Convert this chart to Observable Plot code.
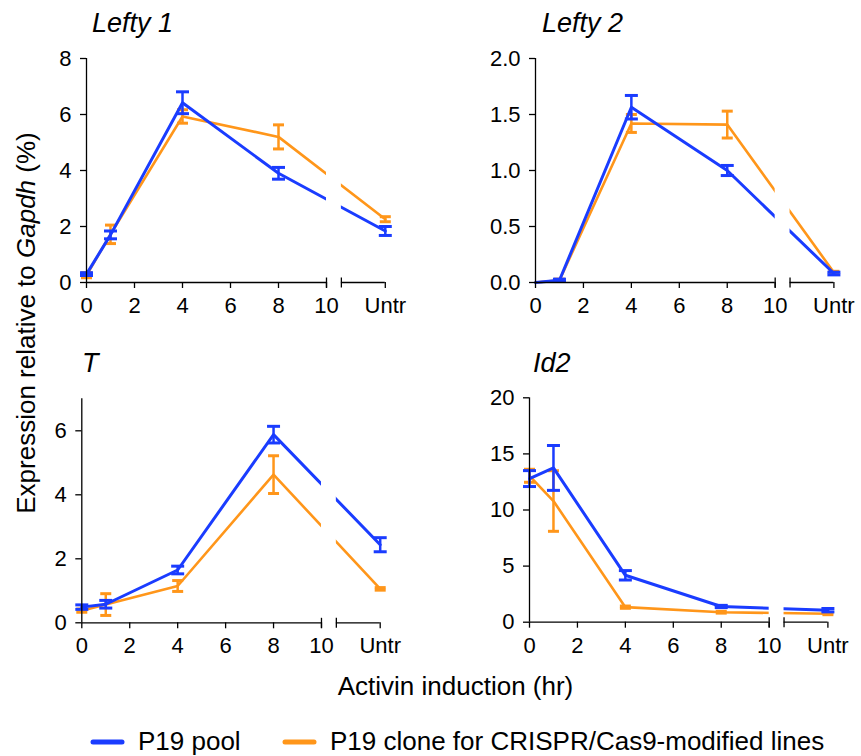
<!DOCTYPE html>
<html><head><meta charset="utf-8">
<script src="https://cdn.jsdelivr.net/npm/d3@7"></script>
<script src="https://cdn.jsdelivr.net/npm/@observablehq/plot@0.6"></script>
<style>
body{margin:0;background:#fff;}
#chart{position:relative;width:861px;height:756px;background:#fff;}
#chart svg{position:absolute;}
</style></head><body><div id="chart"></div>
<script>
const FONT = '"Liberation Sans", Arial, Helvetica, sans-serif';
const BLUE = "#1a3cff", ORANGE = "#ff961a";

// x categories (time points, hr) and the untreated control
const times = ["0", "1", "4", "8", "Untr"];
const xTicks = [0, 2, 4, 6, 8, 10];
const UNTR = 12.45, BREAK_START = 10, BREAK_END = 10.62;

// series names
const seriesPool = "P19 pool";
const seriesClone = "P19 clone for CRISPR/Cas9-modified lines";

// Lefty 1
const lefty1Pool = [0.30, 1.70, 6.42, 3.90, 1.84];
const lefty1PoolErr = [0.05, 0.14, 0.39, 0.21, 0.16];
const lefty1Clone = [0.26, 1.72, 5.93, 5.20, 2.26];
const lefty1CloneErr = [0.09, 0.33, 0.24, 0.43, 0.09];
const lefty1Ticks = [0, 2, 4, 6, 8];
// Lefty 2
const lefty2Pool = [0.00, 0.02, 1.565, 1.00, 0.08];
const lefty2PoolErr = [0, 0.01, 0.105, 0.045, 0.012];
const lefty2Clone = [0.00, 0.02, 1.42, 1.41, 0.09];
const lefty2CloneErr = [0, 0.01, 0.08, 0.12, 0.01];
const lefty2Ticks = [0, 0.5, 1, 1.5, 2];
// T
const tPool = [0.49, 0.58, 1.65, 5.88, 2.44];
const tPoolErr = [0.07, 0.12, 0.12, 0.26, 0.22];
const tClone = [0.38, 0.57, 1.15, 4.63, 1.06];
const tCloneErr = [0.05, 0.34, 0.17, 0.59, 0.04];
const tTicks = [0, 2, 4, 6];
// Id2
const id2Pool = [12.80, 13.75, 4.18, 1.40, 1.07];
const id2PoolErr = [0.71, 2.00, 0.42, 0.10, 0.15];
const id2Clone = [13.05, 10.80, 1.34, 0.89, 0.75];
const id2CloneErr = [0.58, 2.70, 0.10, 0.08, 0.08];
const id2Ticks = [0, 5, 10, 15, 20];

const panels = [
  {title: "Lefty 1", pool: lefty1Pool, poolErr: lefty1PoolErr, clone: lefty1Clone, cloneErr: lefty1CloneErr,
   yMax: 8, yTicks: lefty1Ticks, fmt: d => String(d),
   left: 0, top: 0, width: 430, height: 330, mL: 86, mR: 45.2, mT: 58, mB: 48, tx: 92, ty: 32},
  {title: "Lefty 2", pool: lefty2Pool, poolErr: lefty2PoolErr, clone: lefty2Clone, cloneErr: lefty2CloneErr,
   yMax: 2, yTicks: lefty2Ticks, fmt: d3.format(".1f"),
   left: 430, top: 0, width: 431, height: 330, mL: 105, mR: 27.6, mT: 58, mB: 48, tx: 542, ty: 32},
  {title: "T", pool: tPool, poolErr: tPoolErr, clone: tClone, cloneErr: tCloneErr,
   yMax: 7, yTicks: tTicks, fmt: d => String(d),
   left: 0, top: 340, width: 430, height: 330, mL: 81.3, mR: 50.3, mT: 58.3, mB: 47.7, tx: 82, ty: 372},
  {title: "Id2", pool: id2Pool, poolErr: id2PoolErr, clone: id2Clone, cloneErr: id2CloneErr,
   yMax: 20, yTicks: id2Ticks, fmt: d => String(d),
   left: 430, top: 340, width: 431, height: 330, mL: 99, mR: 33.6, mT: 57.3, mB: 48.3, tx: 533, ty: 372}
];

const xPos = t => t === "Untr" ? UNTR : +t;
const hCap = {draw(ctx, size) { const w = Math.sqrt(size / Math.PI); ctx.moveTo(-w, 0); ctx.lineTo(w, 0); }};
const vTick = {draw(ctx, size) { const w = Math.sqrt(size / Math.PI); ctx.moveTo(0, -w); ctx.lineTo(0, w); }};

function rows(vals, errs, series) {
  return times.map((t, i) => ({t, x: xPos(t), y: vals[i], e: errs[i], series}));
}

function errMarks(data, color, capR) {
  const withErr = data.filter(d => d.e > 0);
  return [
    Plot.ruleX(withErr, {x: "x", y1: d => d.y - d.e, y2: d => d.y + d.e, stroke: color, strokeWidth: 2.5}),
    Plot.dot(withErr, {x: "x", y: d => d.y - d.e, symbol: hCap, r: capR, stroke: color, strokeWidth: 3, fill: "none"}),
    Plot.dot(withErr, {x: "x", y: d => d.y + d.e, symbol: hCap, r: capR, stroke: color, strokeWidth: 3, fill: "none"})
  ];
}

const chart = document.getElementById("chart");

for (const p of panels) {
  const pool = rows(p.pool, p.poolErr, seriesPool);
  const clone = rows(p.clone, p.cloneErr, seriesClone);
  const svg = Plot.plot({
    width: p.width, height: p.height,
    marginLeft: p.mL, marginRight: p.mR, marginTop: p.mT, marginBottom: p.mB,
    x: {domain: [0, UNTR], axis: null, label: null},
    y: {domain: [0, p.yMax], axis: null, label: null},
    style: {fontFamily: FONT, fontSize: "22px", color: "black", background: "transparent", overflow: "visible"},
    marks: [
      Plot.line(clone, {x: "x", y: "y", stroke: ORANGE, strokeWidth: 2.6}),
      ...errMarks(clone, ORANGE, 5.5),
      Plot.line(pool, {x: "x", y: "y", stroke: BLUE, strokeWidth: 3}),
      ...errMarks(pool, BLUE, 6.5),
      // axis break gap
      Plot.rect([0], {x1: BREAK_START, x2: BREAK_END, y1: 0, y2: p.yMax, fill: "white"}),
      // axes
      Plot.ruleX([0], {stroke: "black", strokeWidth: 1.3}),
      Plot.ruleY([0], {x1: 0, x2: BREAK_START, stroke: "black", strokeWidth: 1.3}),
      Plot.ruleY([0], {x1: BREAK_END, x2: UNTR, stroke: "black", strokeWidth: 1.3}),
      Plot.dot([BREAK_START, BREAK_END], {x: d => d, y: 0, symbol: vTick, r: 5, stroke: "black", strokeWidth: 1.3}),
      Plot.axisY({ticks: p.yTicks, tickFormat: p.fmt, label: null, tickSize: 6, tickPadding: 9, fontSize: 22, fill: "black", stroke: "black", strokeWidth: 1.3}),
      Plot.axisX({ticks: [...xTicks, UNTR], tickFormat: d => d === UNTR ? "Untr" : String(d), label: null, tickSize: 6, tickPadding: 9, fontSize: 22, fill: "black", stroke: "black", strokeWidth: 1.3})
    ]
  });
  svg.style.left = p.left + "px";
  svg.style.top = p.top + "px";
  chart.appendChild(svg);
}

// overlay for titles, axis labels and legend
const ov = d3.select(chart).append("svg")
  .attr("width", 861).attr("height", 756)
  .style("left", "0px").style("top", "0px")
  .style("pointer-events", "none")
  .style("font-family", FONT);

for (const p of panels) {
  ov.append("text").attr("x", p.tx).attr("y", p.ty)
    .attr("font-size", 27).attr("font-style", "italic").attr("fill", "black").text(p.title);
}

const yl = ov.append("text").attr("transform", "translate(35,323) rotate(-90)")
  .attr("text-anchor", "middle").attr("font-size", 26).attr("fill", "black");
yl.append("tspan").text("Expression relative to ");
yl.append("tspan").attr("font-style", "italic").text("Gapdh");
yl.append("tspan").text(" (%)");

ov.append("text").attr("x", 455.5).attr("y", 695).attr("text-anchor", "middle")
  .attr("font-size", 26).attr("fill", "black").text("Activin induction (hr)");

const legend = [
  {name: seriesPool, color: BLUE, x: 91},
  {name: seriesClone, color: ORANGE, x: 283}
];
for (const l of legend) {
  ov.append("line").attr("x1", l.x + 2).attr("x2", l.x + 31).attr("y1", 742).attr("y2", 742)
    .attr("stroke", l.color).attr("stroke-width", 5).attr("stroke-linecap", "round");
  ov.append("text").attr("x", l.x + 47).attr("y", 750).attr("font-size", 26).attr("fill", "black").text(l.name);
}
</script></body></html>
